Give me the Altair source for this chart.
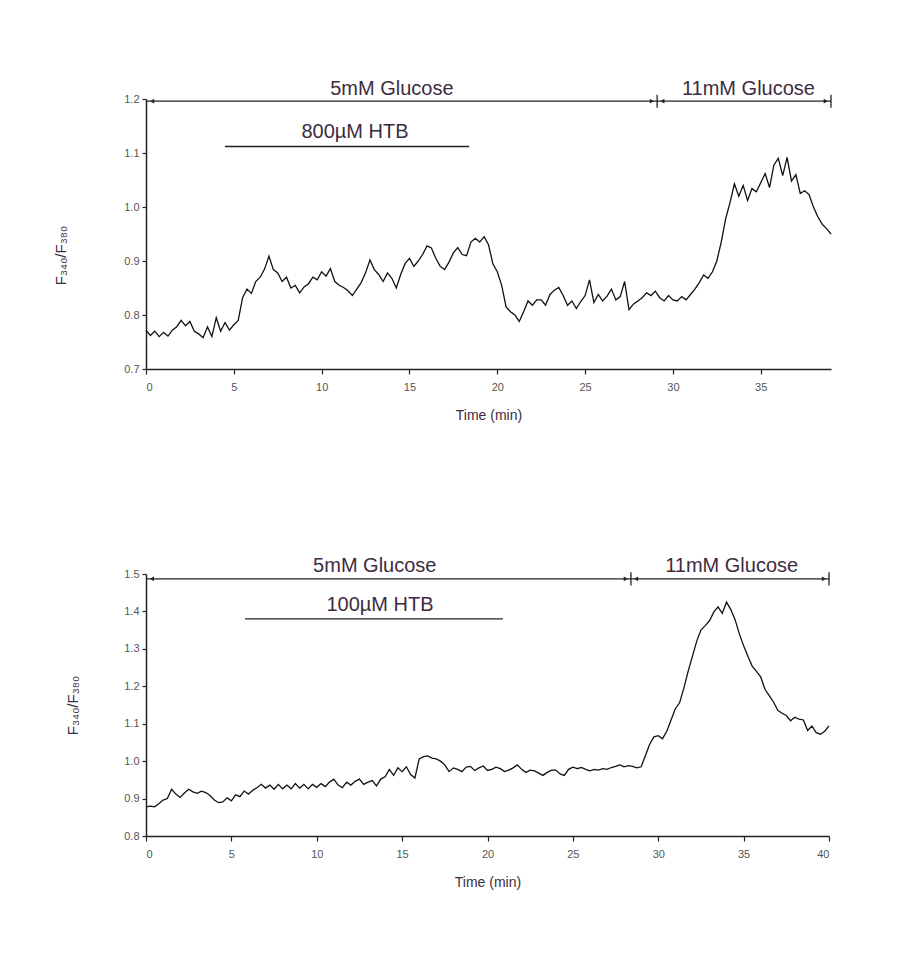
import altair as alt
import pandas as pd

# ---------------- data ----------------
STEP = 0.25  # sampling interval of the traces (min)

top_values = [
    0.772, 0.762, 0.770, 0.760, 0.768, 0.761, 0.772, 0.778, 0.790, 0.780,
    0.788, 0.770, 0.765, 0.758, 0.778, 0.760, 0.795, 0.770, 0.786, 0.772,
    0.782, 0.790, 0.832, 0.848, 0.840, 0.862, 0.870, 0.885, 0.909, 0.884,
    0.878, 0.862, 0.870, 0.850, 0.855, 0.841, 0.852, 0.858, 0.870, 0.865,
    0.880, 0.872, 0.886, 0.862, 0.855, 0.851, 0.845, 0.836, 0.848, 0.860,
    0.878, 0.902, 0.884, 0.875, 0.862, 0.878, 0.868, 0.850, 0.875, 0.895,
    0.905, 0.890, 0.900, 0.912, 0.928, 0.924, 0.905, 0.890, 0.884, 0.898,
    0.915, 0.925, 0.912, 0.910, 0.935, 0.942, 0.935, 0.945, 0.930, 0.895,
    0.880, 0.855, 0.815, 0.806, 0.800, 0.788, 0.806, 0.826, 0.818, 0.828,
    0.828, 0.818, 0.838, 0.846, 0.851, 0.836, 0.818, 0.826, 0.812, 0.825,
    0.836, 0.865, 0.823, 0.838, 0.826, 0.835, 0.848, 0.828, 0.834, 0.862,
    0.810, 0.820, 0.826, 0.832, 0.841, 0.836, 0.844, 0.832, 0.826, 0.836,
    0.828, 0.826, 0.834, 0.828, 0.838, 0.848, 0.860, 0.874, 0.868, 0.880,
    0.900, 0.935, 0.978, 1.008, 1.043, 1.020, 1.040, 1.012, 1.034, 1.028,
    1.045, 1.062, 1.036, 1.078, 1.090, 1.058, 1.092, 1.048, 1.060, 1.025,
    1.030, 1.023, 1.000, 0.982, 0.968, 0.960, 0.950,
]

bottom_values = [
    0.878, 0.880, 0.878, 0.886, 0.896, 0.900, 0.925, 0.912, 0.903, 0.915,
    0.925, 0.918, 0.914, 0.920, 0.916, 0.908, 0.896, 0.889, 0.891, 0.902,
    0.894, 0.910, 0.905, 0.920, 0.912, 0.922, 0.929, 0.938, 0.928, 0.936,
    0.925, 0.938, 0.926, 0.936, 0.926, 0.940, 0.928, 0.938, 0.926, 0.938,
    0.930, 0.940, 0.932, 0.944, 0.952, 0.936, 0.929, 0.944, 0.936, 0.946,
    0.952, 0.938, 0.944, 0.948, 0.934, 0.952, 0.958, 0.978, 0.962, 0.982,
    0.972, 0.985, 0.964, 0.955, 1.006, 1.012, 1.014, 1.008, 1.006, 1.000,
    0.990, 0.972, 0.982, 0.978, 0.972, 0.984, 0.986, 0.975, 0.982, 0.987,
    0.975, 0.978, 0.984, 0.980, 0.972, 0.976, 0.982, 0.990, 0.978, 0.970,
    0.976, 0.974, 0.968, 0.962, 0.970, 0.976, 0.976, 0.966, 0.962, 0.978,
    0.984, 0.980, 0.983, 0.978, 0.974, 0.978, 0.976, 0.980, 0.978, 0.983,
    0.986, 0.990, 0.985, 0.988, 0.986, 0.982, 0.985, 1.015, 1.045, 1.065,
    1.068, 1.060, 1.080, 1.110, 1.140, 1.156, 1.195, 1.240, 1.280, 1.320,
    1.350, 1.362, 1.375, 1.398, 1.412, 1.395, 1.425, 1.405, 1.378, 1.340,
    1.308, 1.280, 1.254, 1.240, 1.225, 1.192, 1.175, 1.158, 1.136, 1.128,
    1.122, 1.108, 1.117, 1.112, 1.110, 1.082, 1.094, 1.076, 1.072, 1.080,
    1.094,
]

top_time = [i * STEP for i in range(len(top_values))]
bottom_time = [i * STEP for i in range(len(bottom_values))]

top_xticks = [0, 5, 10, 15, 20, 25, 30, 35]
bottom_xticks = [0, 5, 10, 15, 20, 25, 30, 35, 40]
top_yticks = [0.7, 0.8, 0.9, 1.0, 1.1, 1.2]
bottom_yticks = [0.8, 0.9, 1.0, 1.1, 1.2, 1.3, 1.4, 1.5]

# annotation content: (label, time, level)
top_labels = ["5mM Glucose", "11mM Glucose", "800µM HTB"]
top_label_t = [14.0, 34.3, 11.9]
top_label_v = [1.219, 1.219, 1.139]
bottom_labels = ["5mM Glucose", "11mM Glucose", "100µM HTB"]
bottom_label_t = [13.4, 34.3, 13.7]
bottom_label_v = [1.521, 1.521, 1.417]

# bracket: start, split, end, level ; HTB bar: start, end, level
top_bracket = [0.0, 29.1, 39.0, 1.196]
top_htb = [4.5, 18.4, 1.112]
bottom_bracket = [0.0, 28.4, 40.0, 1.487]
bottom_htb = [5.8, 20.9, 1.380]

FONT = "Liberation Sans"
TXT = "#3d2c40"
INK = "#222222"


def panel(times, values, xmax, xticks, ymin, ymax, yticks, bracket, htb,
          labels, label_t, label_v, width, height, tick_half, title_pad, title_y):
    xs = alt.Scale(domain=[0, xmax], nice=False, zero=False)
    ys = alt.Scale(domain=[ymin, ymax], nice=False, zero=False)
    xax = alt.Axis(values=xticks, title="Time (min)", format="d")
    yax = alt.Axis(values=yticks, title="F₃₄₀/F₃₈₀", format=".1f",
                   titlePadding=title_pad, titleY=title_y, titleFontSize=15)

    df = pd.DataFrame({"t": times, "v": values})
    line = alt.Chart(df).mark_line(color="#111111", strokeWidth=1.3).encode(
        x=alt.X("t:Q", scale=xs, axis=xax),
        y=alt.Y("v:Q", scale=ys, axis=yax),
    )

    b0, bs, be, bl = bracket
    h0, h1, hl = htb
    segs = pd.DataFrame({"a": [b0, bs, h0], "b": [bs, be, h1], "y": [bl, bl, hl]})
    rules = alt.Chart(segs).mark_rule(color=INK, strokeWidth=1.4).encode(
        x=alt.X("a:Q", scale=xs, axis=xax),
        x2="b:Q",
        y=alt.Y("y:Q", scale=ys, axis=yax),
    )

    ticks = pd.DataFrame({"a": [bs, be], "y1": [bl - tick_half] * 2, "y2": [bl + tick_half] * 2})
    vticks = alt.Chart(ticks).mark_rule(color=INK, strokeWidth=1.3).encode(
        x=alt.X("a:Q", scale=xs, axis=xax),
        y=alt.Y("y1:Q", scale=ys, axis=yax),
        y2="y2:Q",
    )

    arrows = pd.DataFrame({
        "a": [b0 + 0.35, bs - 0.3, bs + 0.3, be - 0.3],
        "y": [bl] * 4,
        "s": ["triangle-left", "triangle-right", "triangle-left", "triangle-right"],
    })
    heads = alt.Chart(arrows).mark_point(filled=True, size=22, color=INK, opacity=1).encode(
        x=alt.X("a:Q", scale=xs, axis=xax),
        y=alt.Y("y:Q", scale=ys, axis=yax),
        shape=alt.Shape("s:N", scale=None, legend=None),
    )

    tdf = pd.DataFrame({"label": labels, "t": label_t, "v": label_v})
    texts = alt.Chart(tdf).mark_text(font=FONT, fontSize=20, color=TXT, baseline="middle").encode(
        x=alt.X("t:Q", scale=xs, axis=xax),
        y=alt.Y("v:Q", scale=ys, axis=yax),
        text="label:N",
    )

    return alt.layer(line, rules, vticks, heads, texts).properties(width=width, height=height)


top = panel(top_time, top_values, 39, top_xticks, 0.7, 1.2, top_yticks,
            top_bracket, top_htb, top_labels, top_label_t, top_label_v,
            685, 270, 0.012, 55, 156)
bottom = panel(bottom_time, bottom_values, 40, bottom_xticks, 0.8, 1.5, bottom_yticks,
               bottom_bracket, bottom_htb, bottom_labels, bottom_label_t, bottom_label_v,
               683, 262, 0.018, 43, 131)

chart = alt.vconcat(top, bottom, spacing=134).properties(
    padding={"top": 70, "left": 45, "right": 5, "bottom": 5},
).configure(
    font=FONT,
).configure_view(
    stroke=None,
).configure_axis(
    grid=False,
    domainColor=INK,
    domainWidth=1.5,
    tickColor=INK,
    tickWidth=1.2,
    tickSize=4,
    labelFont=FONT,
    labelFontSize=11,
    labelColor="#555555",
    labelPadding=3,
    titleFont=FONT,
    titleFontSize=14,
    titleFontWeight="normal",
    titleColor=TXT,
).configure_axisX(
    labelPadding=7,
    titlePadding=16,
    tickSize=5,
)

chart.save("out.html", embed_options={"renderer": "svg", "actions": False})
